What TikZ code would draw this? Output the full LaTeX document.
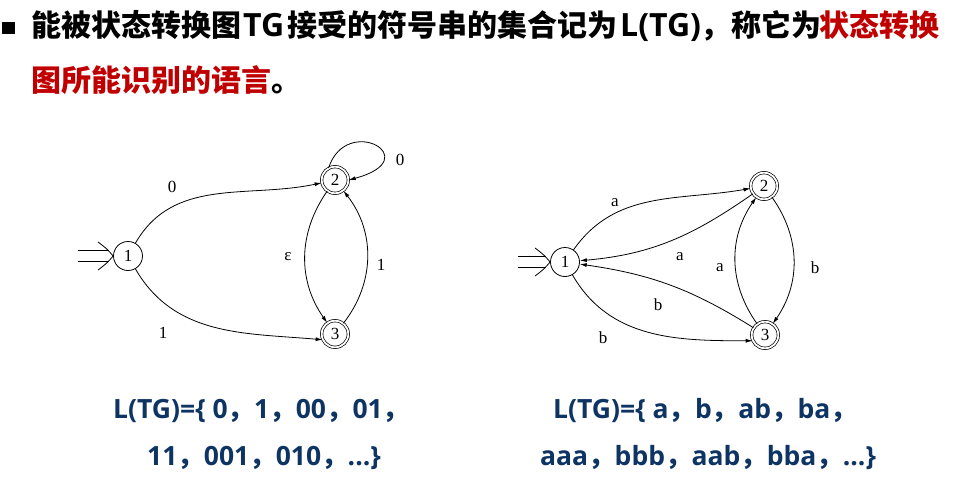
\documentclass[tikz,border=0pt]{standalone}
\usepackage{fontspec}
\setmainfont{Liberation Serif}
\newfontfamily\cjk{Noto Sans CJK SC}
\newfontfamily\osans{Open Sans}
\usetikzlibrary{arrows.meta,calc}
\definecolor{titlered}{RGB}{192,0,0}
\definecolor{navy}{RGB}{14,52,100}
\newcommand{\fwc}{{\cjk\bfseries ，}}
\newcommand{\latn}[1]{{\osans\bfseries\fontsize{32}{32}\selectfont #1}}
\begin{document}
\begin{tikzpicture}[x=1pt,y=-1pt,
  st/.style={circle,draw,line width=0.8pt,minimum size=29pt,inner sep=0pt,font=\fontsize{17}{17}\selectfont},
  acc/.style={circle,draw,line width=0.7pt,double,double distance=1.8pt,minimum size=26.6pt,inner sep=0pt,font=\fontsize{17}{17}\selectfont},
  edge/.style={line width=0.8pt,-{Latex[length=7pt,width=4pt]}},
  thinline/.style={line width=0.8pt},
  lbl/.style={font=\fontsize{17}{17}\selectfont,inner sep=0pt},
  title/.style={anchor=base west,inner sep=0pt,font=\cjk\bfseries\fontsize{30}{30}\selectfont},
  lang/.style={anchor=base west,inner sep=0pt,text=navy,font=\osans\bfseries\fontsize{26.5}{26.5}\selectfont}]
\useasboundingbox (0,0) rectangle (968,482);

% title
\fill (2,21.5) rectangle (14.5,33.5);
\node[title] (t1) at (31,36) {\makebox[212pt][l]{能被状态转换图}\makebox[44pt][l]{\latn{TG}}\makebox[333pt][l]{接受的符号串的集合记为}\makebox[80pt][l]{\latn{L(TG)}}\makebox[31pt][l]{，}\makebox[88pt][l]{称它为}\textcolor{titlered}{状态转换}};
\node[title,text=titlered] (t2) at (31,91) {图所能识别的语言{\color{black}。}};

% left diagram
\node[st] (A1) at (128,256) {1};
\node[acc] (A2) at (335,180) {2};
\node[acc] (A3) at (335,334) {3};
\coordinate (sA) at (78,256);
\draw[thinline] ($(sA)+(0,-5.3)$) -- ($(A1.west)+(-4,-5.3)$);
\draw[thinline] ($(sA)+(0,5.3)$) -- ($(A1.west)+(-4,5.3)$);
\draw[thinline] ($(A1.west)+(-15,-14)$) .. controls ($(A1.west)+(-6,-7)$) .. (A1.west) .. controls ($(A1.west)+(-6,7)$) .. ($(A1.west)+(-15,14)$);
\draw[edge] (A1) to[out=60,in=192] (A2);
\draw[edge] (A1.300) to[out=-60,in=175] (A3.205);
\draw[edge] (A2.118) .. controls +(72:58pt) and +(15:82pt) .. (A2.east);
\draw[edge] (A2) to[bend right=35] (A3);
\draw[edge] (A3) to[bend right=38] (A2);
\node[lbl] (l0) at (172,187) {0};
\node[lbl] (l1) at (400,160) {0};
\node[lbl] (l2) at (288,257) {ε};
\node[lbl] (l3) at (381,265) {1};
\node[lbl] (l4) at (163,333) {1};

% right diagram
\node[st] (B1) at (565,262) {1};
\node[acc] (B2) at (764,186) {2};
\node[acc] (B3) at (765,335) {3};
\coordinate (sB) at (518,262);
\draw[thinline] ($(sB)+(0,-5.3)$) -- ($(B1.west)+(-4,-5.3)$);
\draw[thinline] ($(sB)+(0,5.3)$) -- ($(B1.west)+(-4,5.3)$);
\draw[thinline] ($(B1.west)+(-15,-14)$) .. controls ($(B1.west)+(-6,-7)$) .. (B1.west) .. controls ($(B1.west)+(-6,7)$) .. ($(B1.west)+(-15,14)$);
\draw[edge] (B1) to[out=55,in=190] (B2);
\draw[edge] (B2) to[out=215,in=5] (B1);
\draw[edge] (B3) to[bend left=35] (B2);
\draw[edge] (B2) to[bend left=35] (B3);
\draw[edge] (B3) to[bend right=12] (B1);
\draw[edge] (B1.300) to[out=-60,in=180] (B3.205);
\node[lbl] (m0) at (615,203) {a};
\node[lbl] (m1) at (680,257) {a};
\node[lbl] (m2) at (720,268) {a};
\node[lbl] (m3) at (815,268) {b};
\node[lbl] (m4) at (658,305) {b};
\node[lbl] (m5) at (603,338) {b};

% languages
\node[lang] (L1) at (113,418) {L(TG)=\{ 0\fwc 1\fwc 00\fwc 01\fwc};
\node[lang] (L2) at (147,465) {11\fwc 001\fwc 010\fwc ...\}};
\node[lang] (R1) at (553,418) {L(TG)=\{ a\fwc b\fwc ab\fwc ba\fwc};
\node[lang] (R2) at (540,465) {aaa\fwc bbb\fwc aab\fwc bba\fwc ...\}};
\end{tikzpicture}
\end{document}
